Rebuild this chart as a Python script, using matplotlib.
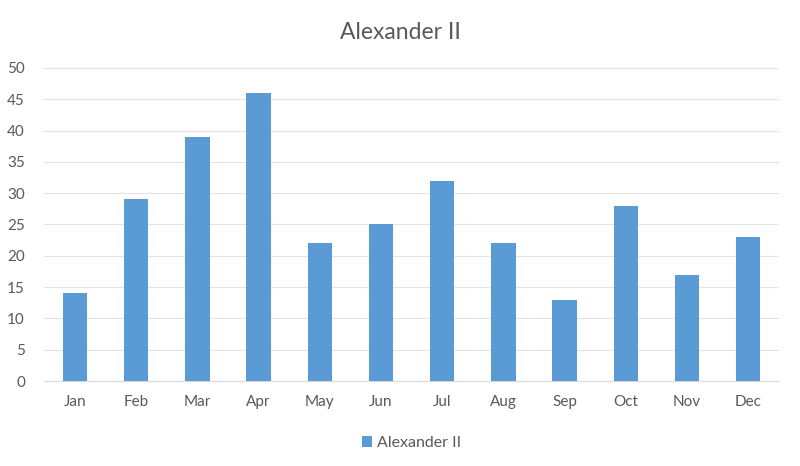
import matplotlib
matplotlib.use("Agg")
import matplotlib.pyplot as plt

months = ["Jan", "Feb", "Mar", "Apr", "May", "Jun",
          "Jul", "Aug", "Sep", "Oct", "Nov", "Dec"]
values = [14, 29, 39, 46, 22, 25, 32, 22, 13, 28, 17, 23]
series_name = "Alexander II"
y_ticks = [0, 5, 10, 15, 20, 25, 30, 35, 40, 45, 50]

bar_color = "#5B9BD5"
text_color = "#595959"
grid_color = "#E3E3E3"

plt.rcParams['font.family'] = ['Lato', 'DejaVu Sans']

fig = plt.figure(figsize=(8, 4.66), dpi=100)
ax = fig.add_axes([0.0555, 0.1824, 0.918, 0.6717])

x = list(range(len(months)))
ax.bar(x, values, width=0.4, color=bar_color, label=series_name, zorder=3)

ax.set_xlim(-0.5, len(months) - 0.5)
ax.set_ylim(0, 50)
ax.set_yticks(y_ticks)
ax.set_xticks(x)
ax.set_xticklabels(months)

# excel-ish look
ax.grid(axis='y', color=grid_color, linewidth=0.8, zorder=0)
for side in ['top', 'right', 'left']:
    ax.spines[side].set_visible(False)
ax.spines['bottom'].set_color("#D9D9D9")
ax.tick_params(axis='both', length=0, colors=text_color, labelsize=11)
ax.tick_params(axis='x', pad=10)
ax.tick_params(axis='y', pad=14)

fig.text(0.5, 0.93, series_name, ha='center', va='center',
         fontsize=16.5, color=text_color)

ax.legend(loc='upper center', bbox_to_anchor=(0.5, -0.13), frameon=False,
          fontsize=11.5, handlelength=0.6, handleheight=0.6, handletextpad=0.3,
          labelcolor=text_color)

fig.savefig("out.png", dpi=100)
